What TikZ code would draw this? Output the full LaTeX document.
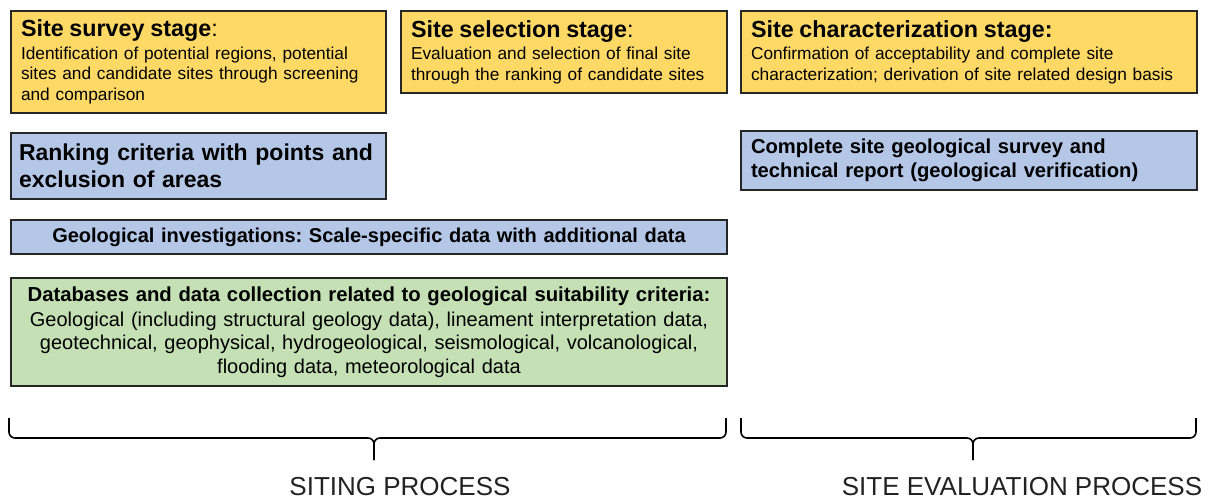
\documentclass[tikz,border=0pt]{standalone}
\usepackage{fontspec}
\setmainfont{Liberation Sans}
\frenchspacing

\definecolor{stagefill}{HTML}{FFD966}
\definecolor{critfill}{HTML}{B4C7E7}
\definecolor{datafill}{HTML}{C5E0B4}
\definecolor{boxline}{HTML}{262626}
\definecolor{labeltext}{HTML}{222222}

\newcommand{\headfont}{\fontsize{11.65}{14}\selectfont\bfseries}
\newcommand{\headcolon}{{\fontsize{11.65}{14}\selectfont:}}
\newcommand{\bodyfont}{\fontsize{8.65}{10.25}\selectfont}

\tikzset{
  box/.style = {draw = boxline, line width = 1pt, anchor = north west,
    inner xsep = 5pt, inner ysep = 0pt},
  stagebox/.style = {box, fill = stagefill, align = left, font = \bodyfont},
  critbox/.style = {box, fill = critfill},
  databox/.style = {box, fill = datafill, align = center},
  procbrace/.style = {line width = 0.8pt, rounded corners = 3pt},
  proclabel/.style = {anchor = base, text = labeltext,
    font = \fontsize{13}{15}\selectfont}
}

\begin{document}
\begin{tikzpicture}[x = 0.5pt, y = -0.5pt]
  \useasboundingbox (0, 0) rectangle (1210, 499);
  % stage boxes
  \node[stagebox, text width = 177.5pt, minimum height = 51pt] (survey)
  at (10, 10) {{\headfont Site survey stage}\headcolon\\[1pt]
    Identification of potential regions, potential\\
    sites and candidate sites through screening\\
    and comparison};
  \node[stagebox, text width = 153pt, minimum height = 41pt] (select)
  at (400, 10) {{\headfont Site selection stage}\headcolon\\[1pt]
    Evaluation and selection of final site\\
    through the ranking of candidate sites};
  \node[stagebox, text width = 218pt, minimum height = 41pt] (charact)
  at (740, 10) {{\headfont Site characterization stage:}\\[1pt]
    Confirmation of acceptability and complete site\\
    characterization; derivation of site related design basis};
  % criteria and investigation boxes
  \node[critbox, text width = 179.5pt, minimum height = 33pt, align = left,
  inner xsep = 4pt, font = \fontsize{11.5}{13.5}\selectfont\bfseries]
  (ranking) at (10, 132) {Ranking criteria with points and\\
    exclusion of areas};
  \node[critbox, text width = 218pt, minimum height = 29.5pt, align = left,
  font = \fontsize{10.1}{12}\selectfont\bfseries] (verify) at (740, 130)
  {Complete site geological survey and\\
    technical report (geological verification)};
  \node[critbox, text width = 348pt, minimum height = 17pt, align = center,
  font = \fontsize{10}{12}\selectfont\bfseries] (investig) at (10, 219)
  {Geological investigations: Scale-specific data with additional data};
  % data box
  \node[databox, text width = 348pt, minimum height = 54pt,
  font = \fontsize{10}{11.75}\selectfont] (data) at (10, 277)
  {{\fontsize{10.15}{12}\selectfont\bfseries Databases and data collection
      related to geological suitability criteria:}\\[0.5pt]
    Geological (including structural geology data), lineament interpretation
    data,\\
    geotechnical, geophysical, hydrogeological, seismological,
    volcanological,\\
    flooding data, meteorological data};
  % braces and process labels
  \coordinate (sitL) at (9, 418);
  \coordinate (sitR) at (726, 418);
  \coordinate (sitT) at (374, 460);
  \coordinate (evaL) at (741, 418);
  \coordinate (evaR) at (1196, 418);
  \coordinate (evaT) at (973, 460);
  \draw[procbrace] (sitL) -- ++(0, 20) -| (sitT);
  \draw[procbrace] (sitR) -- ++(0, 20) -| (sitT);
  \draw[procbrace] (evaL) -- ++(0, 20) -| (evaT);
  \draw[procbrace] (evaR) -- ++(0, 20) -| (evaT);
  \node[proclabel] (siting) at (400, 495) {SITING PROCESS};
  \node[proclabel] (evaluation) at (1022, 495) {SITE EVALUATION PROCESS};
\end{tikzpicture}
\end{document}
